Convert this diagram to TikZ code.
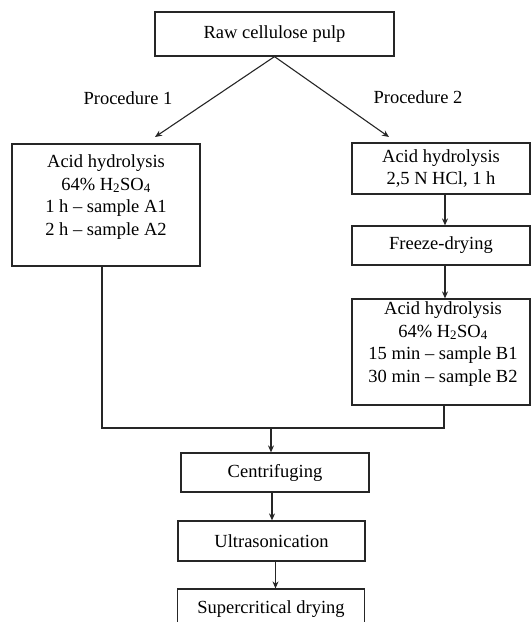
\documentclass[tikz,border=0pt]{standalone}
\usepackage{fontspec}
\setmainfont{Liberation Serif}
\usetikzlibrary{arrows.meta}
\begin{document}
\begin{tikzpicture}[x=1pt,y=1pt,
  box/.style={draw=black!85, line width=1.2pt, rectangle, inner sep=0pt, align=center, font=\fontsize{18.5}{22.5}\selectfont},
  txt/.style={inner sep=0pt, align=center, font=\fontsize{18.5}{22.5}\selectfont},
  arr/.style={draw=black!85, line width=1.1pt, -{Stealth[length=7pt,width=6pt]}},
  ln/.style={draw=black!85, line width=1.1pt}]
\useasboundingbox (0,0) rectangle (531,-622);
% boxes
\node[box, minimum width=239, minimum height=44] (raw) at (274.5,-34) {Raw cellulose pulp};
\node[txt] (proc1) at (128,-98) {Procedure 1};
\node[txt] (proc2) at (418,-97) {Procedure 2};
\node[box, minimum width=188, minimum height=122] (a) at (106,-205) {};
\node[txt] (atext) at (106,-197) {Acid hydrolysis\\64\% H\textsubscript{2}SO\textsubscript{4}\\1 h – sample A1\\2 h – sample A2};
\node[box, minimum width=178, minimum height=51] (r1) at (441,-168.5) {Acid hydrolysis\\2,5 N HCl, 1 h};
\node[box, minimum width=178, minimum height=39] (fd) at (441,-245.5) {Freeze-drying};
\node[box, minimum width=178, minimum height=106] (b3) at (441,-352) {};
\node[txt] (b3text) at (443,-344) {Acid hydrolysis\\64\% H\textsubscript{2}SO\textsubscript{4}\\15 min – sample B1\\30 min – sample B2};
\node[box, minimum width=188, minimum height=39] (c) at (275,-472.5) {Centrifuging};
\node[box, minimum width=187, minimum height=40] (u) at (271.5,-541) {Ultrasonication};
\node[box, minimum width=187, minimum height=40] (s) at (271,-609) {Supercritical drying};
% connectors
\coordinate (p1) at (155,-137);
\coordinate (p2) at (389,-137);
\draw[arr] (raw.south) -- (p1);
\draw[arr] (raw.south) -- (p2);
\draw[arr] ([xshift=4]r1.south) -- ([xshift=4]fd.north);
\draw[arr] ([xshift=4]fd.north |- fd.south) -- ([xshift=4]b3.north);
\coordinate (as) at ([xshift=-4]a.south);
\coordinate (b3s) at ([xshift=3]b3.south);
\coordinate (j) at (271,-428);
\draw[ln] (as) |- (b3s |- j) -- (b3s);
\draw[arr] (j) -- (j |- c.north);
\coordinate (cs) at ([xshift=-3]c.south);
\draw[arr] (cs) -- (cs |- u.north);
\coordinate (us) at ([xshift=4]u.south);
\draw[arr] (us) -- (us |- s.north);
\end{tikzpicture}
\end{document}
